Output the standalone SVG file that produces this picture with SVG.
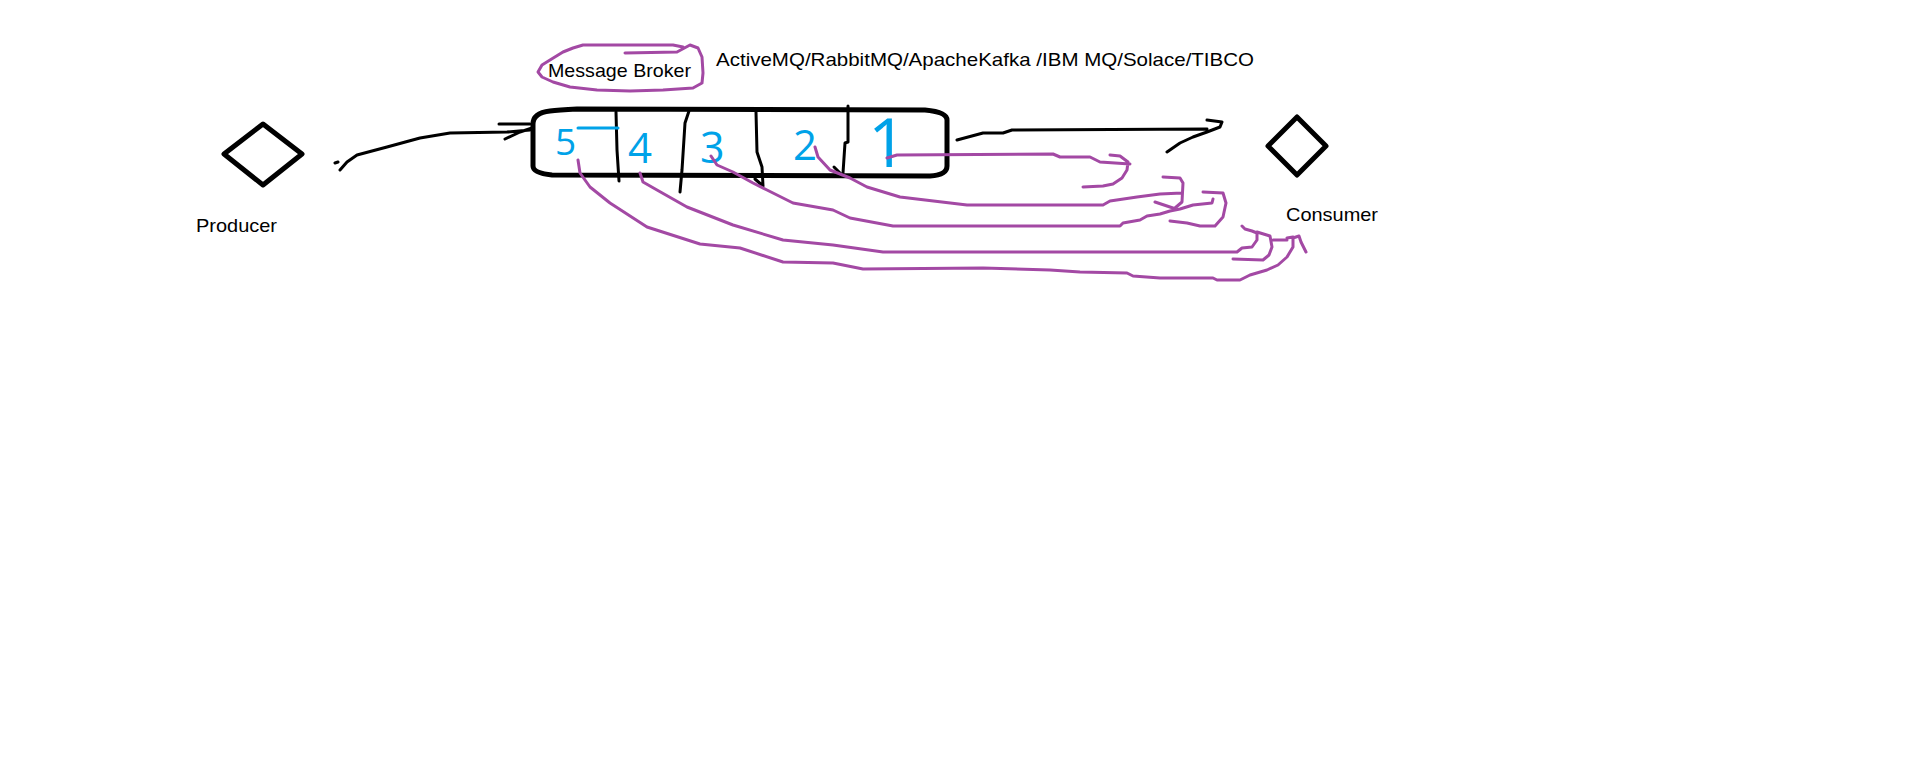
<svg xmlns="http://www.w3.org/2000/svg" width="1914" height="761" viewBox="0 0 1914 761">
<style>
.lbl{font-family:"Liberation Sans",Arial,sans-serif;font-size:19px;fill:#000}
.dig{font-family:"Open Sans","Liberation Sans",sans-serif;fill:#00a2e8}
.blk{fill:none;stroke:#000;stroke-width:3;stroke-linecap:round;stroke-linejoin:round}
.thick{fill:none;stroke:#000;stroke-width:5;stroke-linecap:round;stroke-linejoin:round}
.pur{fill:none;stroke:#a349a4;stroke-width:3;stroke-linecap:round;stroke-linejoin:round}
.blu{fill:none;stroke:#00a2e8;stroke-width:3;stroke-linecap:round}
</style>
<rect width="1914" height="761" fill="#fff"/>
<g id="producer">
<polygon class="thick" points="224,154 263,124 302,154 263,185"/>
<text class="lbl" x="196" y="232" textLength="81" lengthAdjust="spacingAndGlyphs">Producer</text>
</g>
<g id="consumer">
<polygon class="thick" points="1268,146 1297,117 1326,146 1297,175"/>
<text class="lbl" x="1286" y="221" textLength="92" lengthAdjust="spacingAndGlyphs">Consumer</text>
</g>
<g id="broker-label">
<path class="pur" d="M625,53 L677,52 L690,45 L698,48 L702,57 L703,73 L702,83 L693,88 L663,90 L630,91 L597,90 L570,87 L553,82 L542,77 L538,72 L542,65 L550,60 L563,52 L573,48 L583,45 L630,45 L673,45 L683,47"/>
<text class="lbl" x="548" y="77" textLength="143" lengthAdjust="spacingAndGlyphs">Message Broker</text>
</g>
<g id="tech-label">
<text class="lbl" x="716" y="66" textLength="538" lengthAdjust="spacingAndGlyphs">ActiveMQ/RabbitMQ/ApacheKafka /IBM MQ/Solace/TIBCO</text>
</g>
<g id="queue">
<path class="thick" d="M550,111 Q533,113 533,124 L533,166 Q533,173 552,175 L930,176 Q947,175 947,166 L947,120 Q947,112 925,110 L577,109 Q558,110 550,111 Z"/>
<path class="blk" d="M616,112 L617,150 L619,181"/>
<path class="blk" d="M689,111 L685,123 L682,170 L680,192"/>
<path class="blk" d="M756,112 L757,152 L762,167 L763,186 M755,179 L763,186"/>
<path class="blk" d="M848,106 L848,142 L845,143 L843,173 M834,167 L840,173"/>
<line class="blu" x1="578" y1="128" x2="618" y2="128"/>
<text class="dig" x="555" y="155" font-size="37">5</text>
<text class="dig" x="628" y="163" font-size="42">4</text>
<text class="dig" x="700" y="163" font-size="43">3</text>
<text class="dig" x="793" y="160" font-size="42">2</text>
<text class="dig" x="868" y="167" font-size="68">1</text>
</g>
<g id="connectors">
<path class="blk" d="M340,170 L347,162 L357,155 L387,147 L420,138 L450,133 L507,132 L530,130 M499,124 L530,124 M505,139 L520,132 L532,128 M335,163 L338,162"/>
<path class="blk" d="M957,140 L983,133 L1003,133 L1012,130 L1207,129 M1207,120 L1222,122 L1220,127 L1207,132 L1193,137 L1180,143 L1167,152"/>
<path class="pur" d="M887,158 L897,155 L1053,154 L1060,157 L1090,157 L1100,162 L1130,164 M1110,155 L1120,156 L1128,162 L1127,170 L1122,178 L1113,184 L1103,186 L1083,187"/>
<path class="pur" d="M815,147 L818,157 L830,170 L850,178 L867,187 L900,197 L967,205 L1103,205 L1110,201 L1137,197 L1160,194 L1182,193 M1163,177 L1180,178 L1183,183 L1182,202 L1175,208 M1155,202 L1173,208"/>
<path class="pur" d="M711,156 L717,165 L733,172 L753,183 L767,190 L793,203 L833,210 L850,218 L893,226 L1120,226 L1123,223 L1140,220 L1147,216 L1160,214 L1170,211 L1180,209 L1193,205 L1212,203 L1213,199 M1203,192 L1223,193 L1226,203 L1223,217 L1215,226 L1200,226 L1187,223 L1170,221"/>
<path class="pur" d="M640,173 L643,182 L657,190 L687,207 L733,225 L783,240 L833,245 L883,252 L1237,252 L1242,248 L1252,247 L1257,240 L1257,233 L1252,231 L1245,229 L1242,226 M1257,232 L1270,236 L1272,247 L1269,255 L1263,260 L1233,259 M1273,240 L1287,240"/>
<path class="pur" d="M578,160 L580,173 L590,187 L610,203 L647,227 L700,244 L740,248 L783,262 L833,263 L863,269 L983,268 L1050,270 L1080,272 L1127,273 L1133,276 L1160,278 L1213,278 L1217,280 L1240,280 L1250,275 L1267,270 L1278,265 L1287,257 L1293,247 L1293,238 L1299,236 L1301,242 L1306,252 M1287,238 L1293,237"/>
</g>
</svg>
